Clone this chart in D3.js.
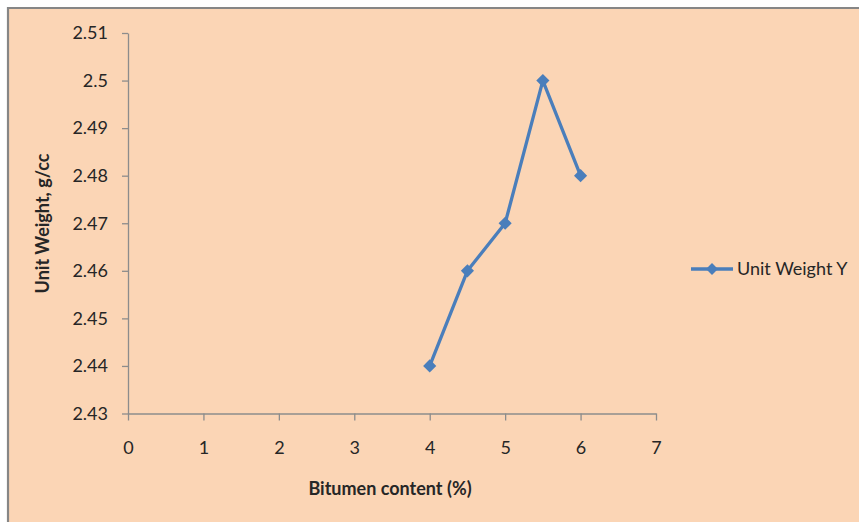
<!DOCTYPE html>
<html>
<head>
<meta charset="utf-8">
<script src="https://cdn.jsdelivr.net/npm/d3@7"></script>
<style>
  html, body { margin: 0; padding: 0; background: #ffffff; }
  svg { display: block; }
  text { font-family: Lato, "Open Sans", sans-serif; fill: #262626; }
</style>
</head>
<body>
<svg id="chart" width="859" height="522"></svg>
<script>
// Bitumen content (%) vs unit weight (g/cc)
const bitumen = [4, 4.5, 5, 5.5, 6];
const unitWeight = [2.44, 2.46, 2.47, 2.50, 2.48];
const xTicks = [0, 1, 2, 3, 4, 5, 6, 7];
const yTicks = [2.43, 2.44, 2.45, 2.46, 2.47, 2.48, 2.49, 2.50, 2.51];
const seriesName = "Unit Weight Y";

const svg = d3.select("#chart");

// chart area background with frame on left/top
svg.append("rect").attr("x", 8).attr("y", 8).attr("width", 851).attr("height", 514)
  .attr("fill", "#fbd5b5");
svg.append("path").attr("d", "M8,522 V8 H859").attr("fill", "none")
  .attr("stroke", "#868686").attr("stroke-width", 2.2);

const x = d3.scaleLinear().domain([0, 7]).range([128, 656]);
const y = d3.scaleLinear().domain([2.43, 2.51]).range([413.5, 33]);

const axisColor = "#8c8c8c";
const fontSize = 18;

const xAxis = svg.append("g").attr("transform", "translate(0,413.5)")
  .call(d3.axisBottom(x).tickValues(xTicks).tickFormat(d3.format("d")).tickSizeOuter(0).tickSizeInner(7).tickPadding(21));
const yAxis = svg.append("g").attr("transform", "translate(128,0)")
  .call(d3.axisLeft(y).tickValues(yTicks).tickFormat(d => +d.toFixed(2) + "").tickSizeOuter(0).tickSizeInner(6).tickPadding(14));

[xAxis, yAxis].forEach(g => {
  g.select(".domain").attr("stroke", axisColor).attr("stroke-width", 1.3);
  g.selectAll(".tick line").attr("stroke", axisColor).attr("stroke-width", 1.3);
  g.selectAll(".tick text").attr("font-size", fontSize).attr("fill", "#262626")
    .style("font-family", "Lato, 'Open Sans', sans-serif");
});

// axis titles
svg.append("text").attr("x", 390).attr("y", 495).attr("text-anchor", "middle")
  .attr("font-size", 18).attr("font-weight", "bold").text("Bitumen content (%)");
svg.append("text").attr("transform", "translate(49,223.5) rotate(-90)").attr("text-anchor", "middle")
  .attr("font-size", 18).attr("font-weight", "bold").text("Unit Weight, g/cc");

// series
const color = "#4a7ebb";
const pts = bitumen.map((b, i) => [b, unitWeight[i]]);
svg.append("path").datum(pts)
  .attr("fill", "none").attr("stroke", color).attr("stroke-width", 3.3)
  .attr("stroke-linejoin", "round")
  .attr("d", d3.line().x(d => x(d[0])).y(d => y(d[1])));

const diamond = d3.symbol().type(d3.symbolDiamond2).size(110);
svg.selectAll(".marker").data(pts).join("path").attr("class", "marker")
  .attr("transform", d => `translate(${x(d[0])},${y(d[1])})`)
  .attr("d", diamond).attr("fill", color);

// legend
const lg = svg.append("g").attr("transform", "translate(691,269)");
lg.append("line").attr("x1", 0).attr("x2", 42).attr("stroke", color).attr("stroke-width", 3.3);
lg.append("path").attr("transform", "translate(21,0)").attr("d", d3.symbol().type(d3.symbolDiamond2).size(90)).attr("fill", color);
lg.append("text").attr("x", 46).attr("y", 6).attr("font-size", fontSize).text(seriesName);
</script>
</body>
</html>
